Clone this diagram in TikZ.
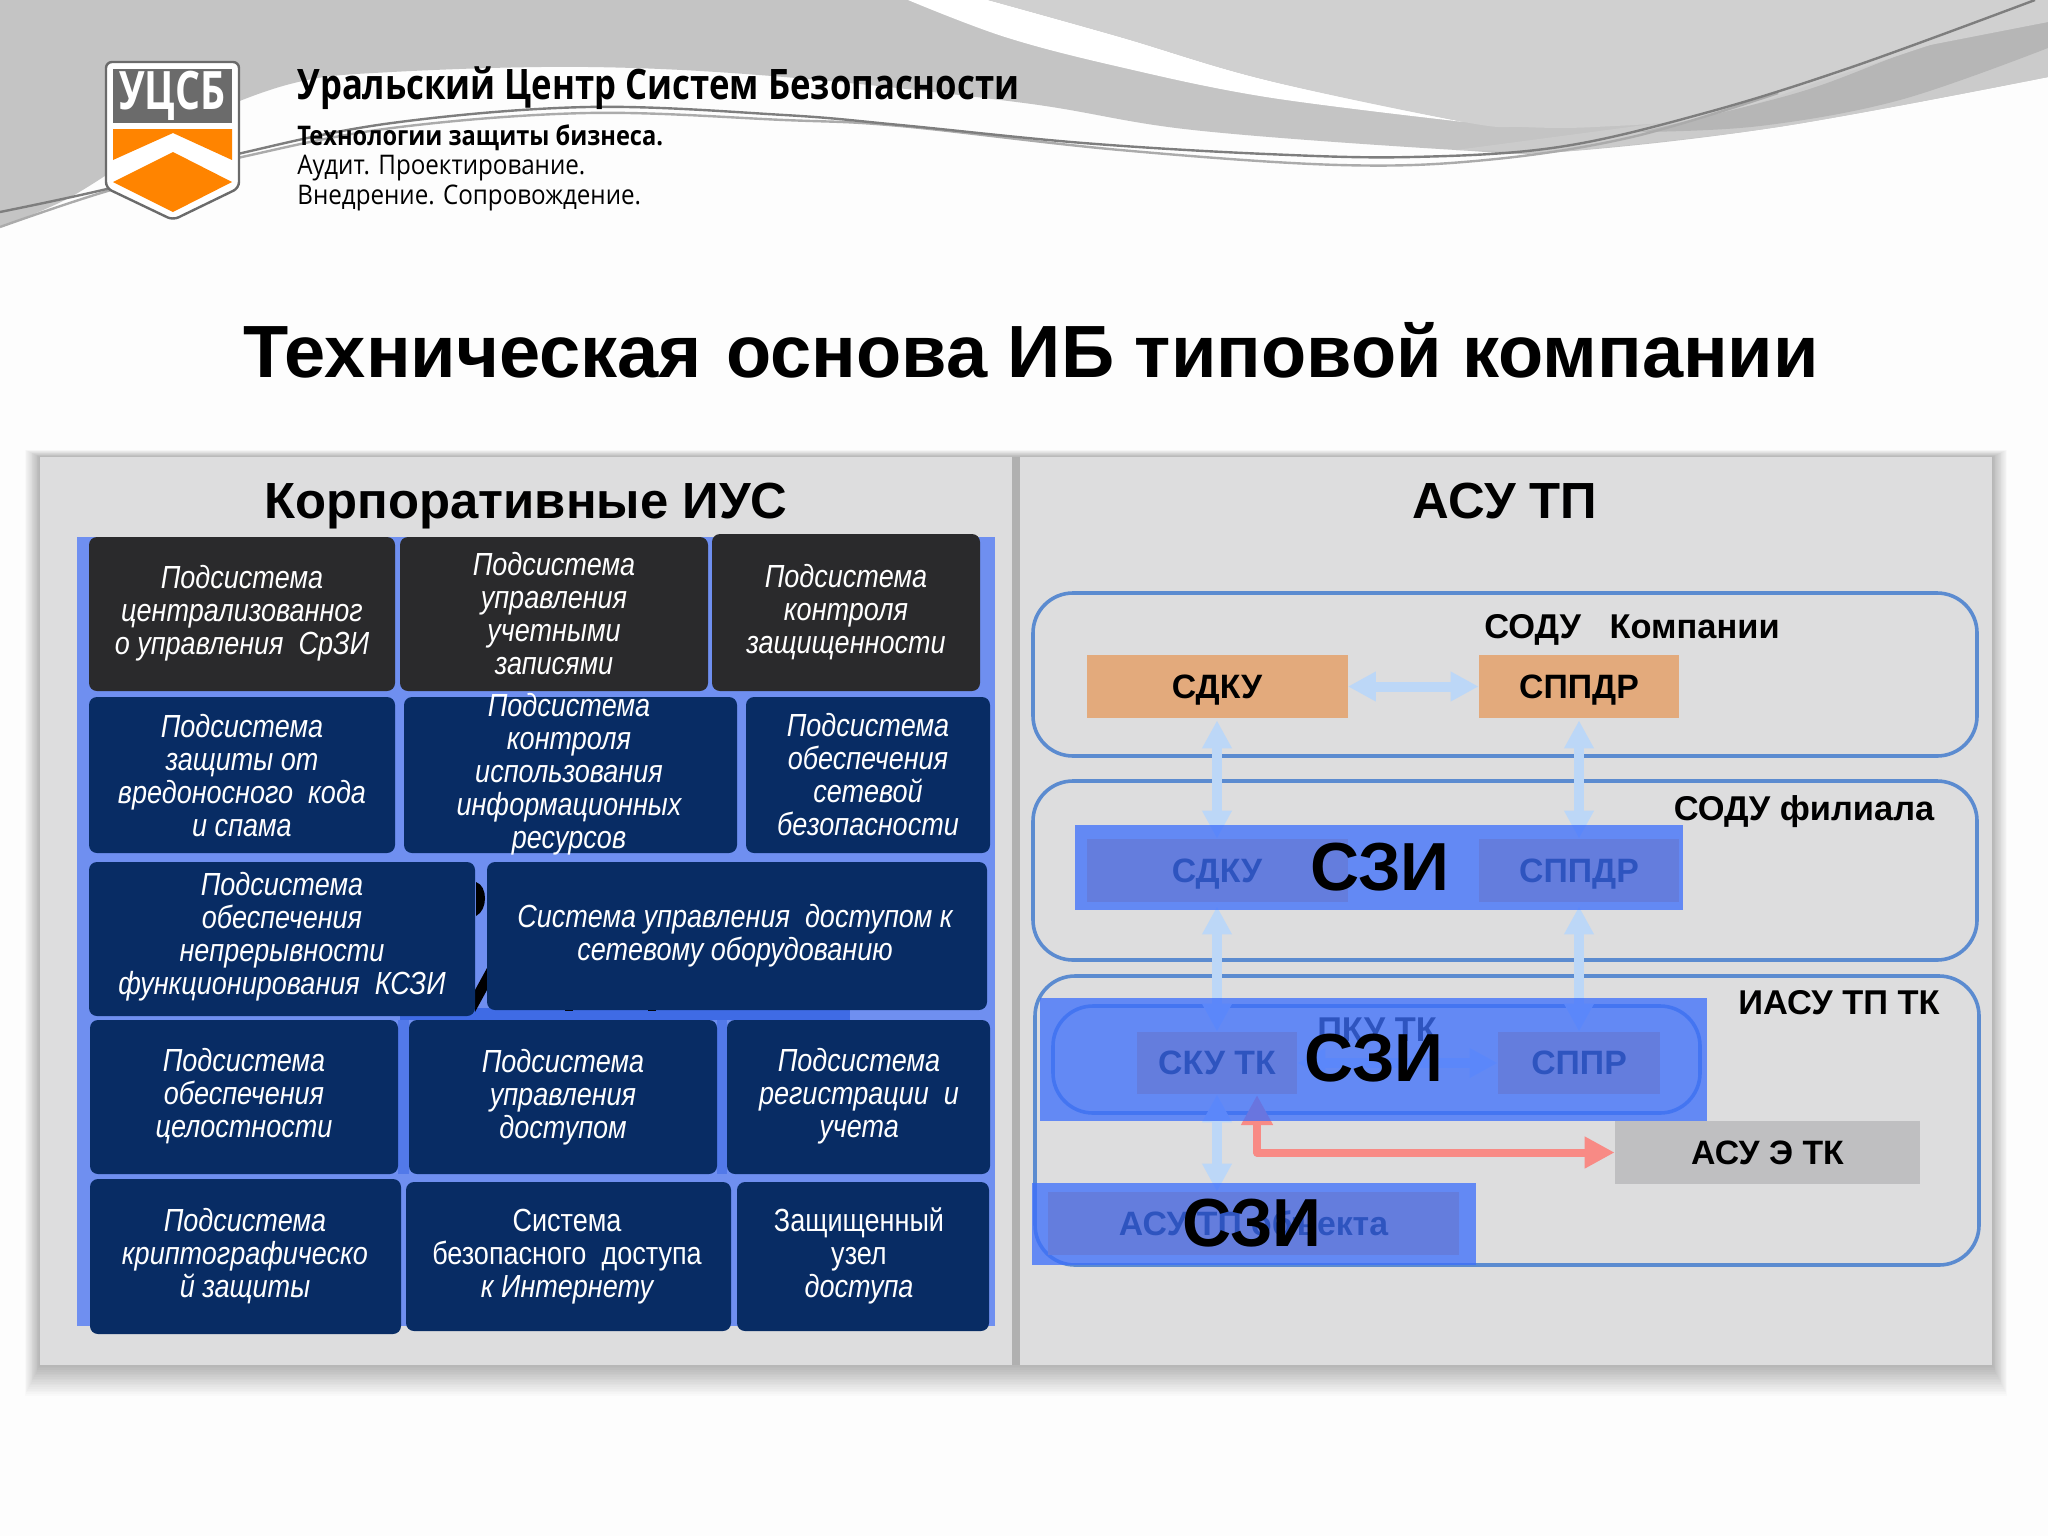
\documentclass[tikz,border=0pt]{standalone}
\usepackage{fontspec}
\setmainfont{Liberation Sans}
\newfontfamily\cellfont[FakeStretch=.845]{Liberation Sans}
\newfontfamily\headfont[FakeStretch=.826]{Open Sans}
\newfontfamily\tagfont[FakeStretch=.895]{Open Sans}
\newfontfamily\tagboldfont[FakeStretch=.875]{Open Sans}
\newfontfamily\logofont[FakeStretch=.74]{Open Sans}
\usetikzlibrary{arrows.meta,calc}
\definecolor{pagebg}{HTML}{FDFDFD}
\definecolor{swgray}{HTML}{C4C4C4}
\definecolor{swlight}{HTML}{D0D0D0}
\definecolor{swband}{HTML}{CBCBCB}
\definecolor{swdark}{HTML}{B6B6B6}
\definecolor{lineDark}{HTML}{7E7E7E}
\definecolor{lineLight}{HTML}{ABABAB}
\definecolor{panelgray}{HTML}{DDDDDE}
\definecolor{dividergray}{HTML}{B0B0B0}
\definecolor{cellblue}{HTML}{6F8FF0}
\definecolor{gapblue}{HTML}{3F6BE5}
\definecolor{cellnavy}{HTML}{082C64}
\definecolor{cellblack}{HTML}{2A2A2C}
\definecolor{frameblue}{HTML}{5B8BD0}
\definecolor{sandbox}{HTML}{E3AA7C}
\definecolor{grayblock}{HTML}{BFBFC1}
\definecolor{arrowblue}{HTML}{BCD7F7}
\definecolor{arrowred}{HTML}{F88A85}
\definecolor{overlayblue}{HTML}{3D6FFC}
\definecolor{logogray}{HTML}{6B6B6B}
\definecolor{logoorange}{HTML}{FF8400}
\tikzset{
  x=0.5pt,y=-0.5pt,
  cellbox/.style={rounded corners=4pt},
  celltext/.style={text=white,align=center,inner sep=0pt,yshift=-.7pt,font=\cellfont\fontsize{16}{16.5}\selectfont},
  frame/.style={draw=frameblue,line width=1.8pt,rounded corners=20pt},
  block/.style={inner sep=0pt,font=\bfseries\fontsize{16.9}{18}\selectfont,text=black},
  orangeblock/.style={block,fill=sandbox},
  grayblk/.style={block,fill=grayblock},
  label/.style={inner sep=0pt,font=\bfseries\fontsize{17.2}{18}\selectfont,text=black},
  szi/.style={inner sep=0pt,font=\bfseries\fontsize{34}{36}\selectfont,text=black},
  overlay/.style={fill=overlayblue,fill opacity=.76},
  bluearrow/.style={draw=arrowblue,line width=5pt,{Triangle[length=14pt,width=14pt]}-{Triangle[length=14pt,width=14pt]}},
  redarrow/.style={draw=arrowred,line width=4pt,line join=round,{Triangle[length=15pt,width=15pt]}-{Triangle[length=15pt,width=15pt]}},
}
\newcommand{\cellat}[9]{% name x0 y0 x1 y1 fill tx ty text
  \fill[cellbox,fill=#6] (#2,#3) rectangle (#4,#5);
  \node[celltext] (#1) at (#7,#8) {#9};
}
\begin{document}
\begin{tikzpicture}
\useasboundingbox (0,0) rectangle (2048,1536);
\fill[pagebg] (0,0) rectangle (2048,1536);
% swooshes
\fill[swgray] (0,0) -- (2048,0) -- plot[smooth,tension=.6] coordinates {(2048,77) (1778,127) (1559,152) (1456,150) (1193,130) (1024,103) (784,77) (588,67) (392,72) (294,83) (196,120) (130,160) (65,200) (0,227)} -- cycle;
\fill[swband] (1456,150) -- (1705,117) -- (2048,0) -- plot[smooth,tension=.6] coordinates {(2048,77) (1778,127) (1559,152)} -- cycle;
\fill[white] plot[smooth,tension=.6] coordinates {(908,0) (1005,37) (1120,67) (1266,97) (1464,122)} -- plot[smooth,tension=.6] coordinates {(1464,122) (1266,80) (1120,37) (988,0)} -- cycle;
\fill[swlight] plot[smooth,tension=.6] coordinates {(988,0) (1120,37) (1266,80) (1464,122) (1522,127) (1595,127) (1705,117) (1815,83) (2035,0)} -- cycle;
\fill[swdark] plot[smooth,tension=.6] coordinates {(1640,132) (1800,92) (1930,45) (2048,22)} -- (2048,48) -- plot[smooth,tension=.6] coordinates {(2048,48) (1900,100) (1760,126) (1640,132)} -- cycle;
\fill[swlight] (2035,0) -- (2048,0) -- (2048,22) -- (1930,45) -- (1815,83) -- cycle;
\draw[lineLight,line width=1.2pt] plot[smooth,tension=.6] coordinates {(0,227) (111,190) (242,157) (392,128) (588,113) (784,120) (900,126) (1120,150) (1339,165) (1486,160) (1632,137) (1778,93)};
\draw[lineDark,line width=1.2pt] plot[smooth,tension=.6] coordinates {(0,212) (111,188) (242,153) (392,123) (588,107) (784,115) (900,125) (1083,143) (1266,154) (1412,157) (1559,147) (1705,113) (1852,67) (2035,0)};
% logo
\draw[fill=white,draw=logogray,line width=1.2pt,rounded corners=3pt] (106,62) -- (239,62) -- (239,188) -- (173,220) -- (106,188) -- cycle;
\node[fill=logogray,minimum width=59.5pt,minimum height=27pt,inner sep=0pt,text=white,font=\logofont\bfseries\fontsize{26.5}{28}\selectfont] (logotext) at (172.5,96) {УЦСБ};
\fill[logoorange] (113,129) -- (232,129) -- (232,160) -- (173,133) -- (113,160) -- cycle;
\fill[logoorange] (113,182) -- (173,152) -- (232,182) -- (173,212) -- cycle;
% header text
\node[anchor=west,inner sep=0pt,font=\headfont\bfseries\fontsize{21}{23}\selectfont] (company) at (297,88) {Уральский Центр Систем Безопасности};
\node[anchor=west,inner sep=0pt,font=\tagboldfont\bfseries\fontsize{13.5}{15}\selectfont] (tag1) at (297,138) {Технологии защиты бизнеса.};
\node[anchor=west,inner sep=0pt,font=\tagfont\fontsize{13.5}{15}\selectfont] (tag2) at (297,168) {Аудит. Проектирование.};
\node[anchor=west,inner sep=0pt,font=\tagfont\fontsize{13.5}{15}\selectfont] (tag3) at (297,198) {Внедрение. Сопровождение.};
\node[inner sep=0pt,font=\bfseries\fontsize{37}{40}\selectfont] (title) at (1031,350) {Техническая\hspace{2pt} основа ИБ типовой компании};
% panels
\foreach \s in {1,2,...,18}{
  \fill[black,opacity=.016] ({40-\s*.85},{457-\s*.4}) rectangle ({1992+\s*.85},{1365+\s*1.7});
}
\fill[panelgray] (40,457) rectangle (1012,1365);
\fill[panelgray] (1020,457) rectangle (1992,1365);
\fill[dividergray] (1012,457) rectangle (1020,1365);
\node[inner sep=0pt,font=\bfseries\fontsize{25.4}{28}\selectfont] (leftTitle) at (526,506) {Корпоративные ИУС};
\node[inner sep=0pt,font=\bfseries\fontsize{25.4}{28}\selectfont] (rightTitle) at (1505,501) {АСУ ТП};
% left matrix
\fill[cellblue] (77,537) rectangle (995,1326);
\fill[gapblue] (400,1008) rectangle (850,1020);
\fill[gapblue,opacity=.6] (398,1020) rectangle (409,1174);
\fill[gapblue,opacity=.6] (717,1020) rectangle (727,1174);
\fill[black] (476,882) .. controls (488,886) and (488,910) .. (476,916) -- cycle;
\fill[black] (487,968) -- (487,990) -- (475,1012) -- (475,990) -- cycle;
\fill[black] (565,1008) rectangle (573,1011);
\fill[black] (648,1008) rectangle (656,1011);
\cellat{c11}{89}{537}{395}{691}{cellblack}{242}{612}{\itshape Подсистема\\\itshape централизованног\\\itshape о управления\ \ СрЗИ}
\cellat{c12}{400}{537}{708}{691}{cellblack}{554}{612}{\itshape Подсистема\\\itshape управления\\\itshape учетными\\\itshape записями}
\cellat{c13}{712}{534}{980}{691}{cellblack}{846}{611}{\itshape Подсистема\\\itshape контроля\\\itshape защищенности}
\cellat{c21}{89}{697}{395}{853}{cellnavy}{242}{774}{\itshape Подсистема\\\itshape защиты от\\\itshape вредоносного\ \ кода\\\itshape и спама}
\cellat{c22}{404}{697}{737}{853}{cellnavy}{569}{773}{\itshape Подсистема\\\itshape контроля\\\itshape использования\\\itshape информационных\\\itshape ресурсов}
\cellat{c23}{746}{697}{990}{853}{cellnavy}{868}{773}{\itshape Подсистема\\\itshape обеспечения\\\itshape сетевой\\\itshape безопасности}
\cellat{c31}{89}{862}{475}{1016}{cellnavy}{282}{935}{\itshape Подсистема\\\itshape обеспечения\\\itshape непрерывности\\\itshape функционирования\ \ КСЗИ}
\cellat{c32}{487}{862}{987}{1010}{cellnavy}{735}{934}{\itshape Система управления\ \ доступом к\\\itshape сетевому оборудованию}
\cellat{c41}{90}{1020}{398}{1174}{cellnavy}{244}{1095}{\itshape Подсистема\\\itshape обеспечения\\\itshape целостности}
\cellat{c42}{409}{1020}{717}{1174}{cellnavy}{563}{1096}{\itshape Подсистема\\\itshape управления\\\itshape доступом}
\cellat{c43}{727}{1020}{990}{1174}{cellnavy}{859}{1095}{\itshape Подсистема\\\itshape регистрации\ \ и\\\itshape учета}
\cellat{c51}{90}{1179}{401}{1334}{cellnavy}{245}{1255}{\itshape Подсистема\\\itshape криптографическо\\\itshape й защиты}
\cellat{c52}{406}{1182}{731}{1331}{cellnavy}{567}{1255}{Система\\безопасного\ \ доступа\\\itshape к Интернету}
\cellat{c53}{737}{1182}{989}{1331}{cellnavy}{859}{1255}{Защищенный\\узел\\\itshape доступа}
% right frames
\draw[frame] (1033,593) rectangle (1977,756);
\draw[frame] (1033,781) rectangle (1977,960);
\draw[frame] (1035,976) rectangle (1979,1265);
\draw[frame] (1053,1006) rectangle (1700,1113);
% blocks
\tikzset{block/.append style={text depth=0pt}}
\node[orangeblock,minimum width=130.5pt,minimum height=31.5pt] (sdkuA) at (1217,686.5) {СДКУ};
\node[orangeblock,minimum width=100pt,minimum height=31.5pt] (sppdrA) at (1579,686.5) {СППДР};
\node[orangeblock,minimum width=130.5pt,minimum height=31.5pt] (sdkuB) at (1217,870.5) {СДКУ};
\node[orangeblock,minimum width=100pt,minimum height=31.5pt] (sppdrB) at (1579,870.5) {СППДР};
\node[orangeblock,minimum width=80pt,minimum height=31pt] (sku) at (1217,1063) {СКУ ТК};
\node[orangeblock,minimum width=81pt,minimum height=31pt] (sppr) at (1579,1063) {СППР};
\node[orangeblock,minimum width=205.5pt,minimum height=31.5pt] (asuobj) at (1253.5,1223.5) {АСУ ТП объекта};
\node[grayblk,minimum width=152.5pt,minimum height=31.5pt] (asue) at (1767.5,1152.5) {АСУ Э ТК};
\node[label] (pku) at (1377,1030) {ПКУ ТК};
\node[label] (lab1) at (1632,630) {СОДУ\ \ \ Компании};
\node[label] (lab2) at (1804,812) {СОДУ филиала};
\node[label] (lab3) at (1839,1003) {ИАСУ ТП ТК};
% arrows
\draw[bluearrow] (sdkuA.east) -- (sppdrA.west);
\draw[bluearrow,shorten <=1pt] (sdkuA.south) -- (sdkuB.north);
\draw[bluearrow,shorten <=1pt] (sppdrA.south) -- (sppdrB.north);
\draw[bluearrow,shorten <=2pt] (sdkuB.south) -- (sku.north);
\draw[bluearrow,shorten <=2pt] (sppdrB.south) -- (sppr.north);
\draw[bluearrow] (sku.east) -- (sppr.west);
\draw[bluearrow] (sku.south) -- (sku.south |- asuobj.north);
\coordinate (redtop) at (1257,1095);
\draw[redarrow] (redtop) |- (asue.west);
% overlays
\fill[overlay] (1075,825) rectangle (1683,910);
\fill[overlay] (1040,998) rectangle (1707,1121);
\fill[overlay] (1032,1183) rectangle (1476,1265);
\node[szi] (sziA) at (1380,867) {СЗИ};
\node[szi] (sziB) at (1374,1058) {СЗИ};
\node[szi] (sziC) at (1252,1223) {СЗИ};
\end{tikzpicture}
\end{document}
